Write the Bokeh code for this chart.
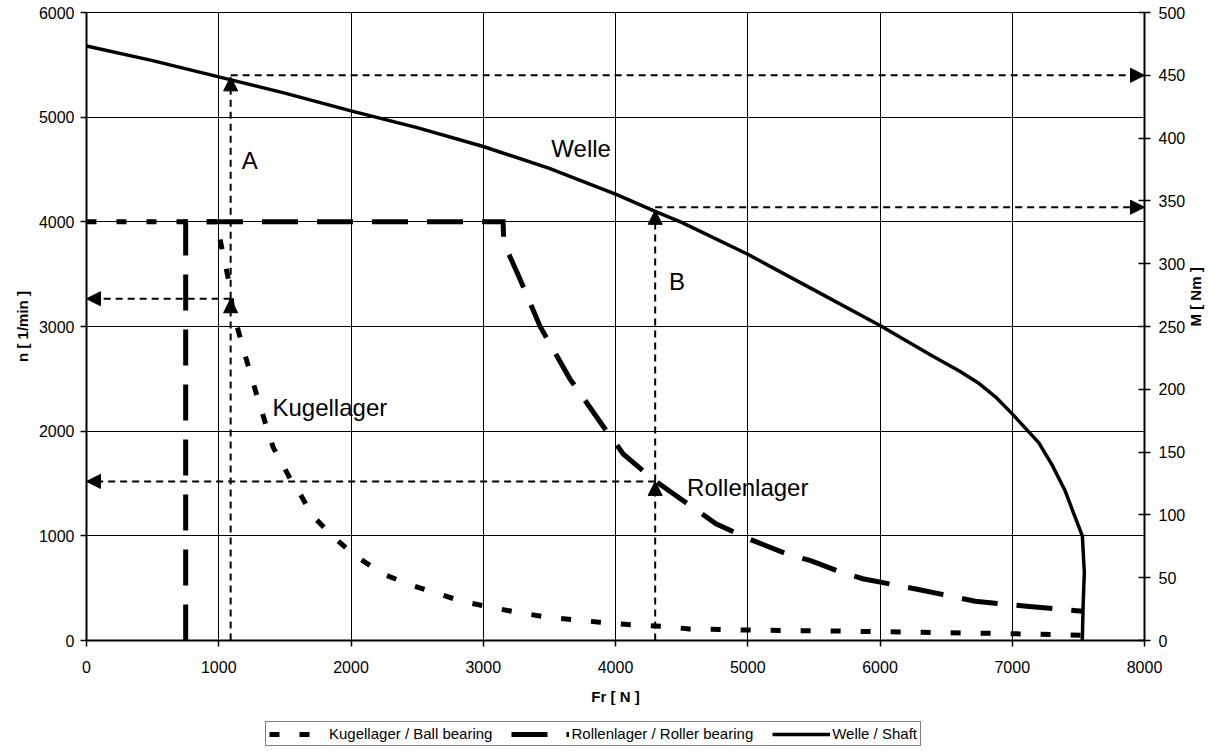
import math
from bokeh.plotting import figure
from bokeh.layouts import column
from bokeh.models import (Range1d, LinearAxis, SingleIntervalTicker, Arrow, NormalHead,
                          Legend, LegendItem)
from bokeh.core.properties import value
from bokeh.embed import file_html
from bokeh.resources import INLINE

FONT = "Liberation Sans"

# ---- data (Fr in N, n in 1/min) ----
fr_ball = [0, 1000, 1005, 1080, 1105, 1180, 1305, 1410, 1560, 1620, 1710, 1860, 2015, 2240,
           2465, 2850, 3250, 3500, 3880, 4100, 4340, 4560, 5000, 5700, 6500, 7000, 7530]
n_ball = [4000, 4000, 3860, 3410, 3160, 2810, 2270, 1850, 1500, 1390, 1190, 1000, 825, 635,
          525, 370, 270, 220, 175, 152, 137, 110, 100, 90, 75, 65, 50]

fr_roller = [750, 750, 3150, 3155, 3265, 3430, 3655, 3930, 4060, 4210, 4300, 4440, 4760, 5000,
             5310, 5470, 5710, 5870, 6280, 6720, 7130, 7530]
n_roller = [0, 4000, 4000, 3800, 3490, 3000, 2500, 2005, 1780, 1620, 1525, 1400, 1115, 975,
            820, 765, 650, 590, 490, 375, 325, 280]

fr_shaft = [0, 500, 1000, 1500, 2000, 2500, 3000, 3500, 4000, 4300, 4500, 5000, 5500, 6000,
            6400, 6600, 6750, 6880, 7000, 7200, 7300, 7400, 7460, 7530, 7545, 7535, 7530]
n_shaft = [5680, 5540, 5385, 5230, 5060, 4900, 4720, 4510, 4265, 4100, 3995, 3690, 3350, 3010,
           2715, 2575, 2455, 2320, 2165, 1890, 1680, 1430, 1230, 1000, 650, 300, 0]

series_labels = ["Kugellager / Ball bearing", "Rollenlager / Roller bearing", "Welle / Shaft"]

# reading examples A and B
fr_A, n_A_ball, n_A_shaft, M_A = 1090, 3265, 5385, 450
fr_B, n_B_roller, n_B_shaft, M_B = 4300, 1520, 4110, 345

label_texts = ["A", "B", "Welle", "Kugellager", "Rollenlager"]
label_fr = [1234, 4466, 3740, 1840, 5000]
label_n = [4586, 3430, 4700, 2226, 1462]

x_ticks_interval = 1000
y_ticks_interval = 1000
m_ticks_interval = 50

# ---- line styles ----
STYLE_BALL = dict(line_color="black", line_width=5, line_dash="10 20", line_cap="butt",
                  line_join="round")
STYLE_ROLLER = dict(line_color="black", line_width=5, line_dash="36 19", line_cap="butt",
                    line_join="miter")
STYLE_SHAFT = dict(line_color="black", line_width=3.5, line_join="round")

# ---- main figure ----
p = figure(width=1215, height=718,
           x_range=Range1d(0, 8000), y_range=Range1d(0, 6000),
           output_backend="svg", toolbar_location=None,
           min_border_left=86, min_border_right=70, min_border_top=12, min_border_bottom=78,
           background_fill_color="white", border_fill_color="white")
p.extra_y_ranges = {"M": Range1d(0, 500)}
p.outline_line_color = "black"
p.outline_line_width = 1

for g in (p.xgrid, p.ygrid):
    g.grid_line_color = "black"
    g.grid_line_width = 1
    g.grid_line_alpha = 1

p.xaxis.ticker = SingleIntervalTicker(interval=x_ticks_interval, num_minor_ticks=0)
p.yaxis.ticker = SingleIntervalTicker(interval=y_ticks_interval, num_minor_ticks=0)
p.xaxis.axis_label = "Fr [ N ]"
p.yaxis.axis_label = "n [ 1/min ]"

right = LinearAxis(y_range_name="M",
                   ticker=SingleIntervalTicker(interval=m_ticks_interval, num_minor_ticks=0),
                   axis_label="M [ Nm ]")
p.add_layout(right, "right")
try:
    right.axis_label_orientation = math.pi / 2
except Exception:
    pass

for ax in (p.xaxis[0], p.yaxis[0], right):
    ax.axis_line_color = "black"
    ax.axis_line_width = 2
    ax.major_tick_line_color = "black"
    ax.major_tick_line_width = 1.5
    ax.major_tick_out = 6
    ax.major_tick_in = 0
    ax.minor_tick_line_color = None
    ax.major_label_text_font = FONT
    ax.major_label_text_font_size = "16px"
    ax.major_label_text_color = "black"
    ax.axis_label_text_font = FONT
    ax.axis_label_text_font_size = "15px"
    ax.axis_label_text_font_style = "bold"
    ax.axis_label_text_color = "black"
    ax.major_label_standoff = 6
right.major_tick_in = 6
right.major_label_standoff = 8
right.axis_label_standoff = 7
p.xaxis[0].major_label_standoff = 14
p.xaxis[0].axis_label_standoff = 12

# ---- series ----
p.line(fr_ball, n_ball, **STYLE_BALL)
p.line(fr_roller, n_roller, **STYLE_ROLLER)
p.line(fr_shaft, n_shaft, **STYLE_SHAFT)

# ---- reading arrows ----
def arrow(x0, y0, x1, y1, y_range_name="default"):
    a = Arrow(end=NormalHead(size=14, fill_color="black", line_color="black", line_width=1),
              x_start=x0, y_start=y0, x_end=x1, y_end=y1,
              line_color="black", line_width=2, line_dash="7 5",
              y_range_name=y_range_name)
    p.add_layout(a)

arrow(fr_A, 0, fr_A, n_A_ball)
arrow(fr_A, n_A_ball, fr_A, n_A_shaft)
arrow(fr_A, n_A_ball, 0, n_A_ball)
arrow(fr_A, M_A, 8000, M_A, "M")
arrow(fr_B, 0, fr_B, n_B_roller)
arrow(fr_B, n_B_roller, fr_B, n_B_shaft)
arrow(fr_B, n_B_roller, 0, n_B_roller)
arrow(fr_B, M_B, 8000, M_B, "M")

p.text(x=label_fr, y=label_n, text=label_texts, text_font=value(FONT),
       text_font_size="24px", text_color="black", text_align="center",
       text_baseline="middle")

# ---- legend strip (separate figure below the chart; its frame aligns with the chart's) ----
lg = figure(width=1215, height=33, x_range=Range1d(0, 1215), y_range=Range1d(0, 33),
            output_backend="svg", toolbar_location=None, min_border=0,
            x_axis_location=None, y_axis_location=None,
            background_fill_color="white", border_fill_color="white")
lg.grid.visible = False
lg.outline_line_color = None
# off-screen stand-ins that only carry the styles for the legend samples
off = [-50, -40]
lr_ball = lg.line(off, off, **STYLE_BALL)
lr_roller = lg.line(off, off, **STYLE_ROLLER)
lr_shaft = lg.line(off, off, **STYLE_SHAFT)

legend = Legend(items=[LegendItem(label=series_labels[0], renderers=[lr_ball]),
                       LegendItem(label=series_labels[1], renderers=[lr_roller]),
                       LegendItem(label=series_labels[2], renderers=[lr_shaft])],
                orientation="horizontal", location=(179, 5))
legend.label_text_font = FONT
legend.label_text_font_size = "15px"
legend.label_text_color = "black"
legend.glyph_width = 58
legend.glyph_height = 14
legend.label_height = 14
legend.label_standoff = 2
legend.spacing = 19
legend.padding = 3
legend.margin = 0
legend.border_line_color = "black"
legend.border_line_width = 1
legend.background_fill_color = "white"
legend.background_fill_alpha = 1
lg.add_layout(legend, "center")

layout = column(p, lg, spacing=0)
open("out.html", "w").write(file_html(layout, INLINE))
